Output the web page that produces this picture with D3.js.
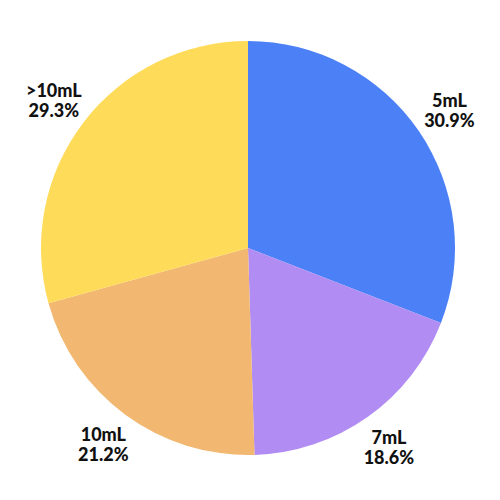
<!DOCTYPE html>
<html>
<head>
<meta charset="utf-8">
<script src="https://cdn.jsdelivr.net/npm/d3@7"></script>
<style>
  body { margin: 0; background: #fff; }
  text { font-family: "Lato", "Open Sans", sans-serif; font-weight: 900; }
</style>
</head>
<body>
<div id="chart"></div>
<script>
// données du graphique
const categories = ["5mL", "7mL", "10mL", ">10mL"];
const percents = [30.9, 18.6, 21.2, 29.3];
const colors = ["#4b80f7", "#b18df3", "#f2b871", "#ffdb5a"];

const width = 500, height = 500;
const cx = 248, cy = 248, radius = 207;

const svg = d3.select("#chart")
    .append("svg")
    .attr("width", width)
    .attr("height", height)
    .append("g")
    .attr("transform", "translate(" + cx + "," + cy + ")");

const pie = d3.pie().sort(null).value(d => d);
const arcs = pie(percents);

const arc = d3.arc().innerRadius(0).outerRadius(radius);
// arc pour placer les étiquettes à l'extérieur
const labelArc = d3.arc().innerRadius(244).outerRadius(244);

svg.selectAll(".slice")
    .data(arcs)
    .enter()
    .append("path")
    .attr("class", "slice")
    .attr("d", arc)
    .attr("fill", (d, i) => colors[i]);

const labels = svg.selectAll(".label")
    .data(arcs)
    .enter()
    .append("text")
    .attr("class", "label")
    .attr("transform", d => "translate(" + labelArc.centroid(d) + ")")
    .attr("text-anchor", "middle")
    .attr("font-size", 18)
    .attr("fill", "#111");

labels.append("tspan")
    .attr("x", 0)
    .attr("dy", "-0.2em")
    .text((d, i) => categories[i]);

labels.append("tspan")
    .attr("x", 0)
    .attr("dy", "1.12em")
    .text((d, i) => percents[i].toFixed(1) + "%");
</script>
</body>
</html>
